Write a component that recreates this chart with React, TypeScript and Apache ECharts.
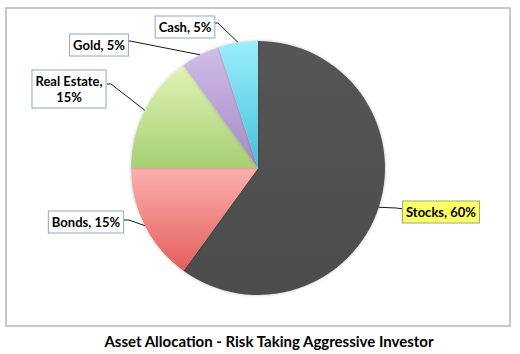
import React, { useEffect, useRef } from "react";
import * as echarts from "echarts";

const categories = ["Stocks", "Bonds", "Real Estate", "Gold", "Cash"];
const values = [60, 15, 15, 5, 5];
const chartTitle = "Asset Allocation - Risk Taking Aggressive Investor";

const topColors = ["#555555", "#fbb0ad", "#e0f4b6", "#d2bde9", "#9ceefa"];
const bottomColors = ["#4d4d4d", "#e45f5b", "#a6cf74", "#a28ac4", "#42c2da"];

// label anchor centres (layout only) and line bend/end offsets
const labelCenters: [number, number][] = [
  [441, 212],
  [86, 222],
  [69, 89],
  [99, 45],
  [185, 27],
];
const lineEnds: [number, number][][] = [
  [[396, 208], [404, 209]],
  [[129, 220], [123, 220]],
  [[111, 84], [107, 84]],
  [[130, 41], [127, 41]],
  [[218, 23], [213, 23]],
];

function labelText(name: string, v: number) {
  if (name === "Real Estate") return `${name},\n${v}%`;
  return `${name}, ${v}%`;
}

export default function App() {
  const ref = useRef<HTMLDivElement>(null);
  useEffect(() => {
    if (!ref.current) return;
    const chart = echarts.init(ref.current, undefined, { renderer: "svg" });
    const data = categories.map((name, i) => ({
      name,
      value: values[i],
      itemStyle: {
        color: {
          type: "linear",
          x: 0,
          y: 0,
          x2: 0,
          y2: 1,
          colorStops: [
            { offset: 0, color: topColors[i] },
            { offset: 1, color: bottomColors[i] },
          ],
        },
      },
      label:
        i === 0
          ? { backgroundColor: "#ffff66", borderColor: "#8faf72" }
          : {},
    }));
    chart.setOption({
      animation: false,
      backgroundColor: "#ffffff",
      graphic: [
        {
          type: "rect",
          shape: { x: 6, y: 8, width: 504, height: 318 },
          style: { fill: "none", stroke: "#c9c9c9", lineWidth: 2 },
          z: -1,
        },
        {
          type: "text",
          x: 269,
          y: 341,
          style: {
            text: chartTitle,
            fill: "#000000",
            font: "bold 15px Lato",
            textAlign: "center",
            textVerticalAlign: "middle",
          },
        },
      ],
      series: [
        {
          type: "pie",
          center: [258, 168],
          radius: 127,
          startAngle: 90,
          clockwise: true,
          data,
          itemStyle: {
            borderWidth: 0,
            shadowBlur: 3,
            shadowColor: "rgba(0,0,0,0.25)",
          },
          emphasis: { disabled: true },
          label: {
            show: true,
            position: "outside",
            formatter: (p: any) => labelText(p.name, p.value),
            fontFamily: "Lato",
            fontWeight: "bold",
            fontSize: 13,
            lineHeight: 16,
            color: "#000000",
            align: "center",
            backgroundColor: "#ffffff",
            borderColor: "#8ea8c6",
            borderWidth: 1,
            padding: [3, 3, 2, 3],
          },
          labelLine: {
            show: true,
            lineStyle: { color: "#1a1a1a", width: 1 },
          },
          labelLayout: (params: any) => {
            const i = params.dataIndex;
            const c = labelCenters[i];
            const start = params.labelLinePoints
              ? params.labelLinePoints[0]
              : [c[0], c[1]];
            return {
              x: c[0],
              y: c[1],
              align: "center",
              verticalAlign: "middle",
              hideOverlap: false,
              labelLinePoints: [start, lineEnds[i][0], lineEnds[i][1]],
            };
          },
        },
      ],
    });
    return () => chart.dispose();
  }, []);
  return (
    <div
      ref={ref}
      style={{ position: "fixed", left: 0, top: 0, width: 520, height: 354 }}
    />
  );
}
